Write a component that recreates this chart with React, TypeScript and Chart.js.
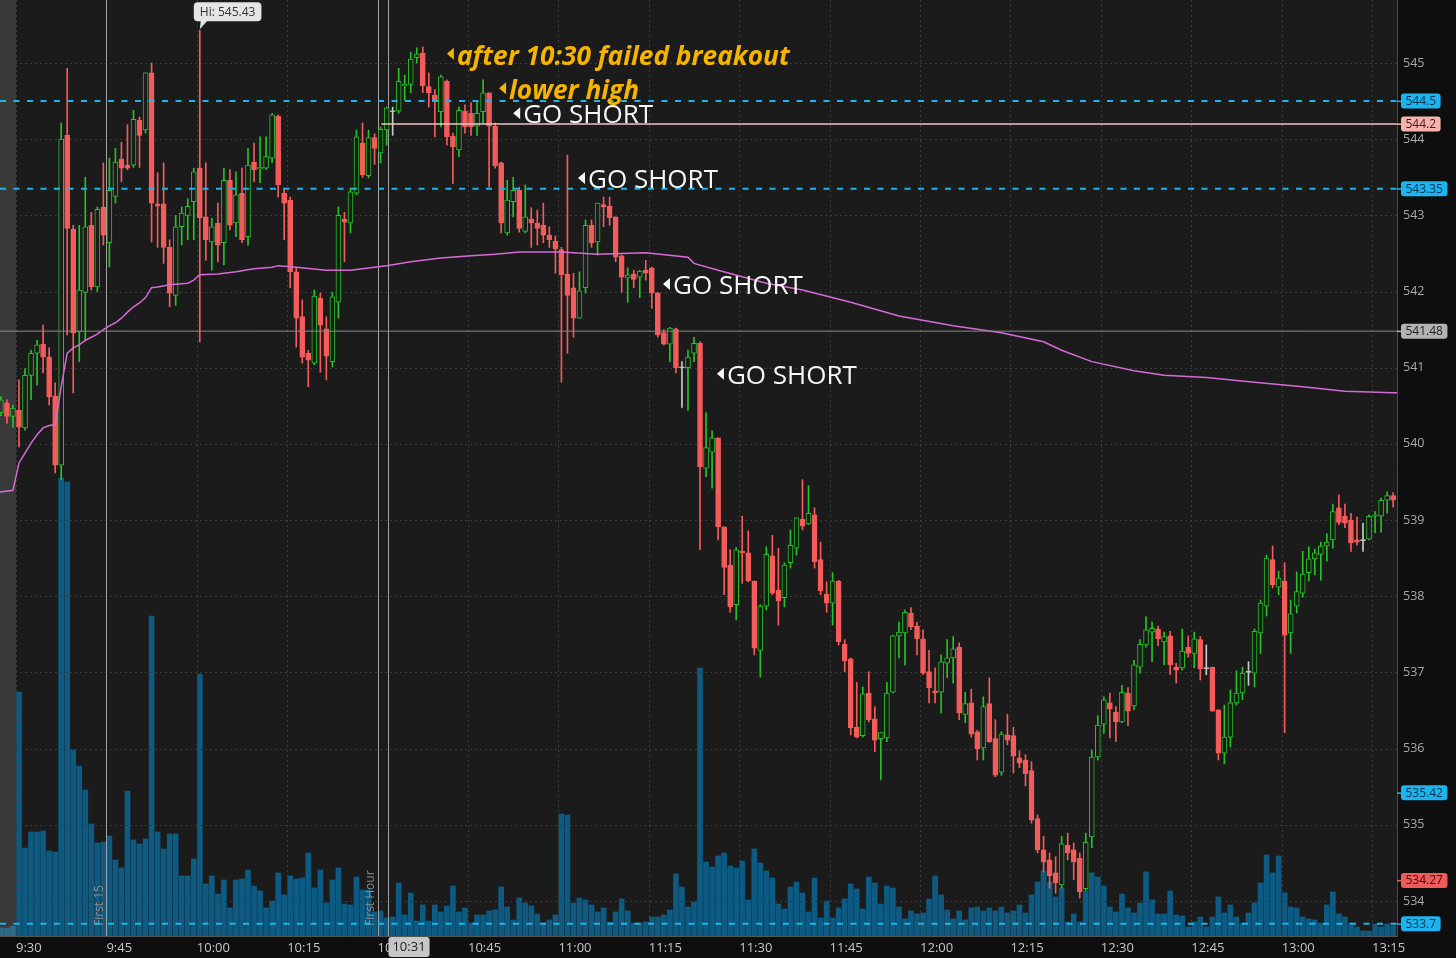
import React, { useEffect, useRef } from 'react';
import { Chart, registerables } from 'chart.js';

Chart.register(...registerables);

const W = 1456;
const H = 958;

// minutes after 9:30 ; first bar is 9:27 (premarket)
const FIRST_MINUTE = -3;
const X_MIN = -2.65;
const X_MAX = 229.14;
const Y_MIN = 533.54;
const Y_MAX = 545.827;

const opens = [
  540.41, 540.54, 540.36,
  540.44, 540.21, 540.90, 541.19, 541.31, 541.14, 540.63, 539.72, 544.05, 542.82,
  541.47, 541.99, 542.87, 542.06, 543.11, 542.64, 543.25, 543.74, 543.66, 543.66,
  544.25, 544.12, 544.87, 543.15, 543.15, 542.58, 541.95, 542.85, 543.00, 543.18,
  543.62, 542.98, 542.65, 542.90, 542.64, 543.46, 542.90, 543.29, 542.72, 543.70,
  543.61, 543.62, 543.75, 544.30, 543.29, 543.20, 542.26, 541.67, 541.19, 541.06,
  541.91, 541.51, 541.08, 541.86, 542.95, 542.90, 543.29, 543.95, 543.52, 544.02,
  543.82, 544.12, 544.36, 544.37, 544.70, 544.72, 545.07, 545.13, 544.69, 544.58,
  544.36, 544.76, 544.04, 543.86, 544.37, 544.34, 544.17, 544.36, 544.61, 544.17,
  543.69, 542.77, 543.18, 543.33, 542.79, 542.95, 542.90, 542.87, 542.74, 542.66,
  542.55, 542.23, 542.05, 541.65, 542.05, 542.87, 542.65, 543.14, 543.12, 542.98,
  542.47, 542.18, 542.23, 542.19, 542.28, 542.31, 541.98, 541.46, 541.31, 541.51,
  541.00, 541.00, 541.19, 541.32, 539.68, 539.89, 540.08, 538.91, 538.41, 537.89,
  538.59, 538.57, 538.20, 537.29, 537.87, 538.53, 538.08, 537.98, 538.44, 538.63,
  539.01, 538.95, 539.07, 538.48, 538.03, 537.91, 538.20, 537.37, 537.18, 536.28,
  536.17, 536.73, 536.39, 536.13, 536.14, 536.74, 537.48, 537.52, 537.78, 537.61,
  537.44, 537.01, 536.76, 536.74, 537.12, 537.19, 537.33, 536.45, 536.60, 536.22,
  536.01, 536.59, 536.13, 535.69, 536.18, 536.17, 535.88, 535.85, 535.71, 535.08,
  534.67, 534.54, 534.37, 534.21, 534.73, 534.67, 534.56, 534.16, 534.84, 535.89,
  536.32, 536.60, 536.48, 536.35, 536.73, 536.56, 537.07, 537.36, 537.53, 537.57,
  537.40, 537.48, 537.07, 537.06, 537.33, 537.25, 537.43, 537.05, 537.07, 536.51,
  535.94, 536.15, 536.60, 536.73, 537.00, 536.99, 537.52, 537.87, 538.48, 538.12,
  538.20, 537.52, 537.87, 538.04, 538.31, 538.49, 538.55, 538.66, 538.74, 539.16,
  539.05, 539.00, 538.74, 538.73, 538.75, 539.05, 539.05, 539.26, 539.32,
];

const highs = [
  540.62, 540.58, 540.51,
  540.84, 540.99, 541.23, 541.36, 541.56, 541.26, 540.80, 544.21, 544.93, 542.87,
  542.87, 543.50, 543.04, 543.11, 543.69, 543.75, 543.88, 543.96, 544.19, 544.38,
  544.29, 544.87, 545.00, 543.56, 543.69, 542.68, 543.00, 543.11, 543.22, 543.62,
  545.43, 543.69, 542.96, 543.16, 543.62, 543.60, 543.57, 543.62, 543.88, 543.95,
  544.03, 544.03, 544.34, 544.32, 543.36, 543.24, 542.32, 541.89, 541.23, 542.02,
  541.98, 541.67, 541.99, 543.11, 543.04, 543.36, 544.12, 544.21, 544.12, 544.07,
  544.16, 544.42, 544.42, 544.93, 544.84, 545.14, 545.20, 545.21, 544.87, 544.65,
  544.84, 544.78, 544.08, 544.42, 544.45, 544.48, 544.49, 544.78, 544.61, 544.21,
  543.70, 543.46, 543.50, 543.37, 543.40, 543.10, 543.07, 543.16, 542.85, 542.73,
  542.58, 543.79, 542.24, 542.26, 542.94, 542.94, 543.16, 543.24, 543.24, 542.98,
  542.48, 542.31, 542.28, 542.28, 542.41, 542.32, 541.99, 541.50, 541.53, 541.52,
  541.08, 541.23, 541.40, 541.34, 540.41, 540.17, 540.08, 538.91, 538.61, 538.64,
  539.05, 538.86, 538.20, 537.89, 538.65, 538.80, 538.63, 538.44, 538.87, 539.03,
  539.53, 539.45, 539.16, 538.71, 538.19, 538.31, 538.21, 537.43, 537.19, 536.87,
  536.81, 537.01, 536.55, 536.21, 536.87, 537.49, 537.66, 537.82, 537.85, 537.66,
  537.56, 537.29, 537.06, 537.23, 537.43, 537.47, 537.39, 536.74, 536.78, 536.24,
  536.68, 536.93, 536.38, 536.22, 536.45, 536.28, 535.97, 535.92, 535.83, 535.13,
  534.85, 534.63, 534.58, 534.85, 534.89, 534.76, 534.63, 534.89, 535.98, 536.43,
  536.68, 536.73, 536.55, 536.83, 536.80, 537.16, 537.43, 537.73, 537.66, 537.61,
  537.53, 537.54, 537.12, 537.57, 537.48, 537.53, 537.47, 537.36, 537.07, 536.51,
  536.57, 536.77, 537.02, 537.07, 537.14, 537.57, 537.95, 538.54, 538.66, 538.33,
  538.44, 537.95, 538.32, 538.59, 538.65, 538.62, 538.71, 538.82, 539.21, 539.33,
  539.21, 539.09, 539.04, 538.96, 539.07, 539.11, 539.29, 539.37, 539.36,
];

const lows = [
  540.37, 540.27, 540.22,
  539.96, 540.18, 540.58, 540.77, 540.93, 540.51, 539.62, 539.53, 541.43, 540.67,
  541.08, 541.36, 542.02, 542.00, 542.61, 542.32, 543.16, 543.44, 543.60, 543.63,
  543.63, 544.08, 542.65, 542.58, 542.37, 541.80, 541.82, 542.61, 542.68, 542.68,
  541.34, 542.41, 542.28, 542.39, 542.35, 542.81, 542.72, 542.64, 542.61, 543.44,
  543.43, 543.60, 543.69, 543.24, 542.68, 542.05, 541.27, 541.06, 540.75, 541.04,
  540.94, 540.84, 541.01, 541.65, 542.39, 542.77, 543.27, 543.50, 543.49, 543.67,
  543.69, 543.92, 544.05, 544.34, 544.51, 544.61, 545.00, 544.61, 544.42, 544.03,
  544.16, 543.92, 543.42, 543.77, 544.08, 544.05, 544.05, 544.21, 543.37, 543.62,
  542.77, 542.74, 542.98, 542.78, 542.77, 542.58, 542.61, 542.64, 542.58, 542.24,
  540.81, 541.19, 541.40, 541.65, 541.98, 542.58, 542.48, 542.85, 542.87, 542.39,
  541.99, 541.86, 542.05, 541.92, 542.15, 541.78, 541.40, 541.30, 541.08, 540.93,
  540.48, 540.44, 541.08, 538.61, 539.57, 539.42, 538.74, 538.02, 537.79, 537.69,
  538.17, 538.19, 537.23, 536.94, 537.82, 538.02, 537.62, 537.86, 538.37, 538.54,
  538.87, 538.94, 538.37, 538.02, 537.79, 537.62, 537.36, 537.01, 536.18, 536.14,
  536.15, 536.35, 535.96, 535.59, 536.09, 536.73, 537.19, 537.10, 537.56, 537.23,
  536.97, 536.60, 536.60, 536.47, 536.93, 536.86, 536.38, 536.34, 536.15, 535.85,
  535.85, 536.08, 535.63, 535.65, 536.05, 535.68, 535.75, 535.51, 535.02, 534.63,
  534.38, 534.17, 534.10, 534.17, 534.54, 534.28, 534.04, 534.14, 534.70, 535.85,
  536.20, 536.14, 536.09, 536.34, 536.30, 536.51, 536.99, 537.33, 537.14, 537.35,
  537.10, 536.97, 536.86, 537.03, 537.20, 537.06, 536.90, 536.97, 536.49, 535.85,
  535.80, 536.02, 536.57, 536.64, 536.83, 536.81, 537.25, 537.74, 538.11, 538.02,
  536.21, 537.25, 537.78, 537.99, 538.20, 538.28, 538.21, 538.46, 538.63, 538.94,
  538.90, 538.59, 538.67, 538.59, 538.74, 538.83, 538.84, 539.09, 539.17,
];

const closes = [
  540.58, 540.36, 540.47,
  540.22, 540.90, 541.19, 541.30, 541.14, 540.62, 539.72, 544.00, 542.83, 541.46,
  542.02, 542.85, 542.06, 543.08, 542.74, 543.33, 543.70, 543.62, 543.62, 544.26,
  544.05, 544.87, 543.16, 543.12, 542.58, 541.98, 542.85, 543.03, 543.12, 543.57,
  542.97, 542.68, 542.85, 542.61, 543.46, 542.87, 543.27, 542.68, 543.66, 543.60,
  543.63, 543.77, 544.32, 543.40, 543.16, 542.26, 541.65, 541.14, 541.10, 541.94,
  541.56, 541.15, 541.93, 543.00, 542.91, 543.31, 544.03, 543.53, 544.02, 543.88,
  544.13, 544.41, 544.36, 544.76, 544.72, 545.05, 545.12, 544.70, 544.61, 544.51,
  544.82, 544.03, 543.90, 544.38, 544.16, 544.16, 544.34, 544.61, 544.17, 543.65,
  542.90, 543.20, 543.33, 542.83, 542.98, 542.90, 542.83, 542.74, 542.68, 542.56,
  542.22, 541.95, 541.65, 542.01, 542.87, 542.64, 543.16, 543.11, 542.97, 542.45,
  542.19, 542.22, 542.16, 542.27, 542.24, 541.98, 541.43, 541.31, 541.52, 541.00,
  541.00, 541.14, 541.32, 539.70, 539.95, 540.08, 538.91, 538.38, 537.86, 538.61,
  538.57, 538.20, 537.32, 537.87, 538.55, 538.04, 537.94, 538.41, 538.67, 539.03,
  538.92, 539.09, 538.45, 538.07, 537.91, 538.20, 537.40, 537.15, 536.27, 536.15,
  536.72, 536.38, 536.11, 536.21, 536.73, 537.48, 537.53, 537.79, 537.60, 537.44,
  536.99, 536.80, 536.73, 537.14, 537.19, 537.31, 536.47, 536.59, 536.19, 536.00,
  536.55, 536.09, 535.65, 536.19, 536.11, 535.90, 535.81, 535.67, 535.06, 534.67,
  534.51, 534.33, 534.24, 534.75, 534.63, 534.51, 534.12, 534.77, 535.89, 536.31,
  536.64, 536.52, 536.35, 536.74, 536.49, 537.10, 537.37, 537.56, 537.58, 537.44,
  537.47, 537.10, 537.03, 537.28, 537.25, 537.44, 537.05, 537.05, 536.49, 535.94,
  536.15, 536.60, 536.73, 536.99, 537.00, 537.54, 537.91, 538.50, 538.15, 538.24,
  537.49, 537.77, 538.06, 538.29, 538.49, 538.57, 538.66, 538.71, 539.11, 538.97,
  538.96, 538.70, 538.71, 538.73, 539.05, 539.07, 539.26, 539.32, 539.26,
];

// relative volume (thousands of shares, est.)
const volumes = [
  8, 8, 10,
  244, 88, 104, 104, 105, 85, 84, 458, 454, 186,
  170, 146, 112, 93, 94, 100, 76, 68, 145, 96,
  92, 97, 320, 104, 87, 102, 102, 60, 60, 77,
  262, 52, 60, 42, 56, 28, 56, 57, 66, 50,
  45, 28, 35, 63, 41, 60, 57, 58, 83, 48,
  66, 33, 56, 68, 32, 31, 59, 46, 46, 24,
  25, 18, 19, 53, 21, 43, 15, 31, 15, 31,
  24, 30, 50, 24, 28, 13, 21, 21, 25, 26,
  49, 29, 16, 38, 33, 30, 22, 13, 16, 21,
  122, 121, 33, 38, 36, 31, 24, 28, 14, 24,
  37, 25, 13, 13, 14, 19, 19, 21, 26, 62,
  49, 29, 34, 268, 74, 69, 80, 83, 70, 68,
  75, 36, 87, 73, 65, 58, 32, 27, 49, 54,
  43, 24, 58, 18, 35, 18, 28, 37, 52, 47,
  27, 59, 53, 32, 50, 48, 29, 17, 25, 22,
  23, 37, 60, 41, 26, 17, 25, 16, 28, 29,
  25, 28, 25, 29, 23, 25, 31, 23, 41, 54,
  65, 54, 39, 48, 14, 22, 14, 45, 63, 59,
  50, 29, 24, 42, 28, 23, 33, 64, 36, 22,
  22, 45, 21, 20, 9, 14, 19, 9, 19, 39,
  23, 31, 19, 13, 23, 33, 53, 81, 63, 80,
  43, 29, 28, 19, 17, 16, 13, 31, 44, 22,
  19, 13, 9, 5, 5, 12, 9, 12, 10,
];
const VOLUME_AXIS_MAX = 936;

const vwapMinutes = [
  -2.65, -2.5, -0.5, 0.5, 1.5, 2.5, 3.5, 4.5, 5.5, 6.5, 7.5, 8.5, 9.5, 10.5, 11.5, 12.5, 13.5,
  14.5, 15.5, 16.5, 17.5, 18.5, 19.5, 20.5, 21.5, 22.5, 23.5, 25.5, 28.5, 29.5, 30.5, 33.5,
  36.5, 39.5, 42.5, 43.5, 46.5, 51.5, 55.5, 59.5, 61.5, 65.5, 70.5, 75.5, 79.5, 83.5, 90.5,
  96.5, 104.5, 111.5, 112.5, 116.5, 124.5, 130.5, 138.5, 146.5, 155.5, 163.5, 170.5, 173.5,
  178.5, 185.5, 190.5, 197.5, 205.5, 213.5, 220.5, 228.5, 229.14,
];
const vwapValues = [
  539.37, 539.37, 539.39, 539.75, 539.88, 540.01, 540.12, 540.21, 540.24, 540.25, 540.75, 541.19,
  541.26, 541.30, 541.36, 541.40, 541.44, 541.50, 541.55, 541.59, 541.65, 541.73, 541.80, 541.85,
  541.92, 542.05, 542.06, 542.09, 542.11, 542.15, 542.22, 542.23, 542.26, 542.30, 542.32, 542.34,
  542.32, 542.28, 542.28, 542.32, 542.34, 542.39, 542.44, 542.47, 542.49, 542.52, 542.52, 542.49,
  542.51, 542.45, 542.37, 542.28, 542.11, 542.02, 541.86, 541.68, 541.55, 541.46, 541.34, 541.23,
  541.08, 540.96, 540.90, 540.87, 540.81, 540.75, 540.69, 540.67, 540.67,
];

const tickMinutes = [0, 15, 30, 45, 60, 75, 90, 105, 120, 135, 150, 165, 180, 195, 210, 225];
const tickLabels = ['9:30', '9:45', '10:00', '10:15', '10:30', '10:45', '11:00', '11:15', '11:30',
  '11:45', '12:00', '12:15', '12:30', '12:45', '13:00', '13:15'];
const priceTicks = [534, 535, 536, 537, 538, 539, 540, 541, 542, 543, 544, 545];

const cyanLevels = [544.5, 543.35, 533.7];
const resistanceLevel = 544.2;
const resistanceStartMinute = 60.6;
const pivotLevel = 541.48;

const badgeValues = [544.5, 544.2, 543.35, 541.48, 535.42, 534.27, 533.7];
const badgeTexts = ['544.5', '544.2', '543.35', '541.48', '535.42', '534.27', '533.7'];
const badgeKinds = ['cyan', 'pink', 'cyan', 'gray', 'cyan', 'red', 'cyan'];

const markerMinutes = [15, 60];
const markerLabels = ['First 15', 'First Hour'];
const cursorMinute = 61.8;
const cursorLabel = '10:31';
const highMinute = 30.5;
const highValue = 545.43;

const noteTexts = ['after 10:30 failed breakout', 'lower high', 'GO SHORT', 'GO SHORT', 'GO SHORT', 'GO SHORT'];
const noteMinutes = [71.5, 80.15, 82.5, 93.25, 107.35, 116.3];
const notePrices = [545.12, 544.67, 544.34, 543.49, 542.1, 540.92];
const noteKinds = ['yellow', 'yellow', 'white', 'white', 'white', 'white'];

// ---- styles ----
const GREEN = '#27c227';
const RED = '#f45b5b';
const DOJI = '#c9c9c9';
const PLOT_BG = '#1b1b1b';
const AXIS_BG = '#0e0e0e';
const PREMARKET_BG = '#393939';
const VOL = '#0d5b82';
const VOL_PRE = '#2d6c88';
const VWAP = '#d66bd6';
const CYAN = '#1fb4ea';
const PINK_LINE = '#f1c6c2';
const PIVOT = '#8a8a8a';
const GRID = '#3b3b3b';
const YELLOW = '#f5b400';
const FONT = '"Open Sans", "DejaVu Sans", sans-serif';

const BADGE_STYLE: any = {
  cyan: { bg: '#1cb4ee', fg: '#06324d' },
  pink: { bg: '#f4b3ad', fg: '#4a1414' },
  gray: { bg: '#b3b3b3', fg: '#1e1e1e' },
  red: { bg: '#f25b5b', fg: '#3a0808' },
};

const xs = opens.map((_, k) => FIRST_MINUTE + k + 0.5);
const colorOf = (k: number) => (closes[k] > opens[k] ? GREEN : closes[k] < opens[k] ? RED : DOJI);

function roundRect(ctx: any, x: number, y: number, w: number, h: number, r: number) {
  ctx.beginPath();
  ctx.moveTo(x + r, y);
  ctx.arcTo(x + w, y, x + w, y + h, r);
  ctx.arcTo(x + w, y + h, x, y + h, r);
  ctx.arcTo(x, y + h, x, y, r);
  ctx.arcTo(x, y, x + w, y, r);
  ctx.closePath();
}

function fitSize(ctx: any, text: string, style: string, target: number) {
  ctx.font = `${style} 20px ${FONT}`;
  const w = ctx.measureText(text).width;
  return (20 * target) / w;
}

function buildDatasets() {
  const levelSets: any[] = cyanLevels.map((v) => ({
    type: 'line',
    label: 'level ' + v,
    data: [{ x: X_MIN, y: v }, { x: X_MAX, y: v }],
    borderColor: CYAN,
    borderWidth: 2,
    borderDash: [6, 7.5],
    pointRadius: 0,
    yAxisID: 'y',
    order: 0,
  }));
  levelSets.push({
    type: 'line',
    label: 'resistance',
    data: [{ x: resistanceStartMinute, y: resistanceLevel }, { x: X_MAX, y: resistanceLevel }],
    borderColor: PINK_LINE,
    borderWidth: 1.5,
    pointRadius: 0,
    yAxisID: 'y',
    order: 0,
  });
  levelSets.push({
    type: 'line',
    label: 'pivot',
    data: [{ x: X_MIN, y: pivotLevel }, { x: X_MAX, y: pivotLevel }],
    borderColor: PIVOT,
    borderWidth: 1,
    pointRadius: 0,
    yAxisID: 'y',
    order: 0,
  });
  const vwap = {
    type: 'line',
    label: 'VWAP',
    data: vwapMinutes.map((m, k) => ({ x: m, y: vwapValues[k] })),
    borderColor: VWAP,
    borderWidth: 1.5,
    pointRadius: 0,
    tension: 0,
    yAxisID: 'y',
    order: 1,
  };
  const bodies = {
    type: 'bar',
    label: 'body',
    data: xs.map((x, k) => ({ x, y: [opens[k], closes[k]] })),
    backgroundColor: xs.map((x, k) => (closes[k] > opens[k] ? (x < 0 ? PREMARKET_BG : PLOT_BG) : colorOf(k))),
    borderColor: xs.map((_, k) => colorOf(k)),
    borderWidth: 1,
    borderSkipped: false,
    barThickness: 5,
    minBarLength: 1,
    grouped: false,
    yAxisID: 'y',
    order: 2,
  };
  const wicks = {
    type: 'bar',
    label: 'wick',
    data: xs.map((x, k) => ({ x, y: [lows[k], highs[k]] })),
    backgroundColor: xs.map((_, k) => colorOf(k)),
    borderWidth: 0,
    barThickness: 1,
    minBarLength: 1,
    grouped: false,
    yAxisID: 'y',
    order: 3,
  };
  const volume = {
    type: 'bar',
    label: 'volume',
    data: xs.map((x, k) => ({ x, y: volumes[k] })),
    backgroundColor: xs.map((x) => (x < 0 ? VOL_PRE : VOL)),
    borderWidth: 0,
    barThickness: 5,
    grouped: false,
    yAxisID: 'yv',
    order: 10,
  };
  return [...levelSets, vwap, bodies, wicks, volume];
}

const overlayPlugin = {
  id: 'overlay',
  beforeDraw(chart: any) {
    const { ctx, chartArea: a, scales } = chart;
    ctx.save();
    ctx.fillStyle = AXIS_BG;
    ctx.fillRect(0, 0, chart.width, chart.height);
    ctx.fillStyle = PLOT_BG;
    ctx.fillRect(a.left, a.top, a.right - a.left, a.bottom - a.top);
    const pm = scales.x.getPixelForValue(0);
    ctx.fillStyle = PREMARKET_BG;
    ctx.fillRect(a.left, a.top, pm - a.left, a.bottom - a.top);
    ctx.restore();
  },
  afterDatasetDraw(chart: any, args: any) {
    if (args.meta.label !== 'volume') return;
    const { ctx, chartArea: a, scales } = chart;
    const { x, y } = scales;
    ctx.save();
    ctx.beginPath();
    ctx.rect(a.left, a.top, a.right - a.left, a.bottom - a.top);
    ctx.clip();
    // dotted grid
    ctx.strokeStyle = GRID;
    ctx.lineWidth = 1;
    ctx.setLineDash([2, 3]);
    priceTicks.forEach((v) => {
      const py = Math.round(y.getPixelForValue(v)) + 0.5;
      ctx.beginPath();
      ctx.moveTo(a.left, py);
      ctx.lineTo(a.right, py);
      ctx.stroke();
    });
    tickMinutes.forEach((m) => {
      const px = Math.round(x.getPixelForValue(m)) + 0.5;
      ctx.beginPath();
      ctx.moveTo(px, a.top);
      ctx.lineTo(px, a.bottom);
      ctx.stroke();
    });
    ctx.setLineDash([]);
    // session markers + cursor
    ctx.strokeStyle = '#a3a3a3';
    [...markerMinutes, cursorMinute].forEach((m) => {
      const px = Math.round(x.getPixelForValue(m)) + 0.5;
      ctx.beginPath();
      ctx.moveTo(px, a.top);
      ctx.lineTo(px, a.bottom);
      ctx.stroke();
    });
    ctx.fillStyle = '#8a8a8a';
    ctx.font = `12px ${FONT}`;
    ctx.textAlign = 'left';
    ctx.textBaseline = 'bottom';
    markerMinutes.forEach((m, k) => {
      const px = x.getPixelForValue(m);
      ctx.save();
      ctx.translate(px - 1, a.bottom - 10);
      ctx.rotate(-Math.PI / 2);
      ctx.fillText(markerLabels[k], 0, 0);
      ctx.restore();
    });
    ctx.restore();
  },
  afterDraw(chart: any) {
    const { ctx, chartArea: a, scales } = chart;
    const { x, y } = scales;
    ctx.save();

    // Hi label
    const hx = x.getPixelForValue(highMinute);
    const hy = y.getPixelForValue(highValue);
    ctx.font = `12px ${FONT}`;
    const ht = `Hi: ${highValue}`;
    const hw = ctx.measureText(ht).width + 12;
    const bx = hx - 6;
    const by = hy - 28;
    ctx.fillStyle = '#e4e4e4';
    roundRect(ctx, bx, by, hw, 19, 4);
    ctx.fill();
    ctx.beginPath();
    ctx.moveTo(hx + 1, by + 18);
    ctx.lineTo(hx + 8, by + 18);
    ctx.lineTo(hx, hy - 1);
    ctx.closePath();
    ctx.fill();
    ctx.fillStyle = '#333';
    ctx.textAlign = 'left';
    ctx.textBaseline = 'middle';
    ctx.fillText(ht, bx + 6, by + 10);

    // notes
    const ySize = fitSize(ctx, noteTexts[0], 'italic bold', 333);
    const wSize = fitSize(ctx, 'GO SHORT', 'normal', 130);
    noteTexts.forEach((t, k) => {
      const px = x.getPixelForValue(noteMinutes[k]);
      const py = y.getPixelForValue(notePrices[k]);
      const yellow = noteKinds[k] === 'yellow';
      const size = yellow ? ySize : wSize;
      ctx.fillStyle = yellow ? YELLOW : '#f7f7f7';
      ctx.beginPath();
      ctx.moveTo(px, py);
      ctx.lineTo(px + 7, py - 6);
      ctx.lineTo(px + 7, py + 6);
      ctx.closePath();
      ctx.fill();
      ctx.font = `${yellow ? 'italic bold' : 'normal'} ${size}px ${FONT}`;
      ctx.textAlign = 'left';
      ctx.textBaseline = 'alphabetic';
      ctx.fillText(t, px + 10, py + size * (yellow ? 0.42 : 0.38));
    });

    // right axis badges
    ctx.font = `12px ${FONT}`;
    ctx.textBaseline = 'middle';
    badgeValues.forEach((v, k) => {
      const st = BADGE_STYLE[badgeKinds[k]];
      const py = y.getPixelForValue(v);
      const tw = ctx.measureText(badgeTexts[k]).width;
      const left = a.right + 4;
      ctx.fillStyle = st.bg;
      roundRect(ctx, left, py - 7.5, tw + 9, 15, 3);
      ctx.fill();
      ctx.fillRect(a.right, py - 0.5, 4, 1.5);
      ctx.fillStyle = st.fg;
      ctx.textAlign = 'left';
      ctx.fillText(badgeTexts[k], left + 4.5, py + 0.5);
    });

    // cursor time box
    const cx = x.getPixelForValue(cursorMinute);
    ctx.font = `13px ${FONT}`;
    const cw = ctx.measureText(cursorLabel).width + 8;
    ctx.fillStyle = '#c6c6c6';
    roundRect(ctx, cx, a.bottom + 1, cw, 20, 3);
    ctx.fill();
    ctx.fillStyle = '#1e1e1e';
    ctx.textAlign = 'center';
    ctx.fillText(cursorLabel, cx + cw / 2, a.bottom + 11.5);
    ctx.restore();
  },
};

export default function App() {
  const ref = useRef<HTMLCanvasElement>(null);
  useEffect(() => {
    const canvas = ref.current;
    if (!canvas) return;
    const chart = new Chart(canvas, {
      type: 'bar',
      data: { datasets: buildDatasets() as any },
      options: {
        animation: false,
        responsive: false,
        maintainAspectRatio: false,
        devicePixelRatio: 1,
        events: [],
        layout: { padding: 0, autoPadding: false },
        plugins: { legend: { display: false }, tooltip: { enabled: false } },
        scales: {
          x: {
            type: 'linear',
            min: X_MIN,
            max: X_MAX,
            offset: false,
            grid: { display: false, drawTicks: false, offset: false },
            border: { display: true, color: '#555555', width: 1 },
            ticks: {
              autoSkip: false,
              maxRotation: 0,
              minRotation: 0,
              align: 'start',
              padding: 4,
              color: '#c6c6c6',
              font: { family: FONT, size: 13 },
              callback: (v: any) => {
                const i = tickMinutes.indexOf(Number(v));
                return i >= 0 ? tickLabels[i] : '';
              },
            },
            afterBuildTicks: (s: any) => {
              s.ticks = tickMinutes.map((v) => ({ value: v }));
            },
            afterFit: (s: any) => {
              s.height = H - 936;
              s.paddingLeft = 0;
              s.paddingRight = 0;
            },
          },
          y: {
            type: 'linear',
            position: 'right',
            min: Y_MIN,
            max: Y_MAX,
            grid: { display: false, drawTicks: false },
            border: { display: true, color: '#4a4a4a', width: 1 },
            ticks: {
              padding: 6,
              color: '#a9a9a9',
              font: { family: FONT, size: 12.5 },
              callback: (v: any) => String(v),
            },
            afterBuildTicks: (s: any) => {
              s.ticks = priceTicks.map((v) => ({ value: v }));
            },
            afterFit: (s: any) => {
              s.width = W - 1397;
              s.paddingTop = 0;
              s.paddingBottom = 0;
            },
          },
          yv: {
            type: 'linear',
            display: false,
            min: 0,
            max: VOLUME_AXIS_MAX,
          },
        },
      } as any,
      plugins: [overlayPlugin as any],
    });
    return () => chart.destroy();
  }, []);
  return (
    <div style={{ position: 'fixed', left: 0, top: 0, width: W, height: H, background: AXIS_BG }}>
      <canvas ref={ref} width={W} height={H} style={{ display: 'block', width: W, height: H }} />
    </div>
  );
}
